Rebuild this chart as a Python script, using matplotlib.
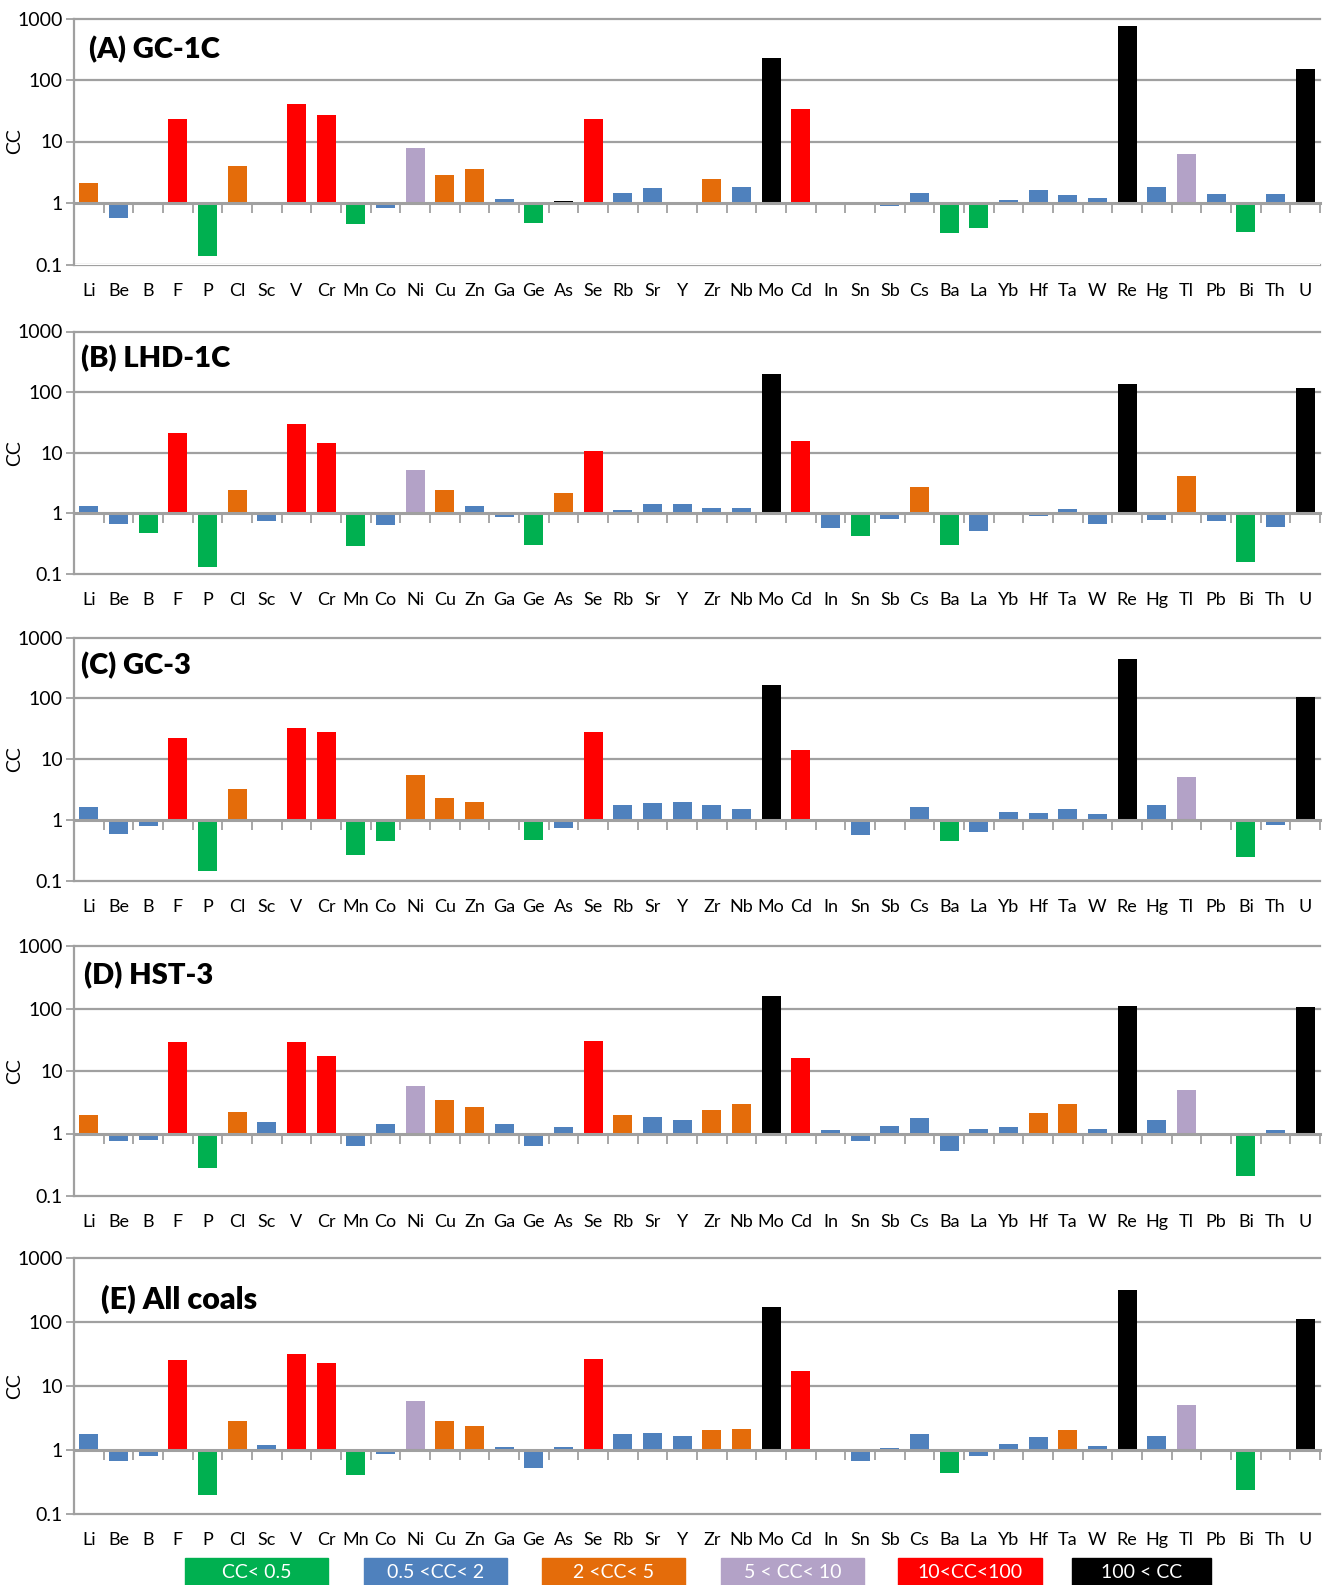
import numpy as np
import matplotlib
matplotlib.use("Agg")
import matplotlib.pyplot as plt
from matplotlib.patches import Rectangle
from matplotlib.ticker import NullLocator, FixedLocator

plt.rcParams['font.family'] = ['Lato', 'DejaVu Sans']

elements = ["Li", "Be", "B", "F", "P", "Cl", "Sc", "V", "Cr", "Mn", "Co", "Ni", "Cu", "Zn",
            "Ga", "Ge", "As", "Se", "Rb", "Sr", "Y", "Zr", "Nb", "Mo", "Cd", "In", "Sn", "Sb",
            "Cs", "Ba", "La", "Yb", "Hf", "Ta", "W", "Re", "Hg", "Tl", "Pb", "Bi", "Th", "U"]

# concentration coefficients (CC) per sample
gc1c = [2.1, 0.56, 1.0, 23, 0.135, 3.96, 1.0, 40.6, 26.9, 0.45, 0.82, 7.9, 2.83, 3.54,
        1.15, 0.48, 1.06, 23, 1.44, 1.73, 1.0, 2.43, 1.8, 228, 33.7, 1.0, 1.0, 0.89,
        1.44, 0.32, 0.39, 1.13, 1.61, 1.37, 1.22, 760, 1.85, 6.2, 1.38, 0.34, 1.42, 151]
lhd1c = [1.32, 0.68, 0.48, 21.1, 0.132, 2.42, 0.76, 29.7, 14.4, 0.29, 0.65, 5.2, 2.42, 1.32,
         0.88, 0.30, 2.16, 10.7, 1.13, 1.43, 1.43, 1.22, 1.22, 198, 15.6, 0.58, 0.43, 0.82,
         2.72, 0.30, 0.52, 1.0, 0.92, 1.18, 0.68, 135, 0.79, 4.13, 0.76, 0.16, 0.60, 116]
gc3 = [1.67, 0.59, 0.80, 22.6, 0.146, 3.3, 1.0, 33, 28.4, 0.27, 0.45, 5.6, 2.35, 2.02,
       0.93, 0.47, 0.74, 28.4, 1.74, 1.88, 1.95, 1.74, 1.55, 168, 14.4, 1.0, 0.57, 0.93,
       1.67, 0.45, 0.64, 1.34, 1.29, 1.50, 1.24, 447, 1.74, 5.2, 0.93, 0.25, 0.83, 106]
hst3 = [2.01, 0.77, 0.80, 29.4, 0.28, 2.24, 1.55, 29.4, 17.6, 0.62, 1.44, 5.8, 3.49, 2.70,
        1.44, 0.62, 1.25, 30.5, 2.01, 1.87, 1.67, 2.42, 3.01, 159, 16.3, 1.12, 0.75, 1.34,
        1.80, 0.52, 1.16, 1.25, 2.09, 3.01, 1.16, 110, 1.67, 5.04, 1.0, 0.21, 1.12, 106]
allcoals = [1.78, 0.67, 0.80, 25.5, 0.198, 2.84, 1.18, 31.6, 22.9, 0.41, 0.88, 5.8, 2.84, 2.37,
            1.13, 0.52, 1.10, 26.4, 1.78, 1.82, 1.67, 2.02, 2.13, 172, 17.2, 1.0, 0.67, 1.06,
            1.78, 0.44, 0.80, 1.23, 1.58, 2.05, 1.14, 316, 1.64, 5.05, 1.0, 0.24, 1.0, 111]

titles = ["(A) GC-1C", "(B) LHD-1C", "(C) GC-3", "(D) HST-3", "(E) All coals"]
series = [gc1c, lhd1c, gc3, hst3, allcoals]

# class bounds and colours
bounds = [0.5, 2, 5, 10, 100]
class_colors = ["#00B050", "#4F81BD", "#E46C0A", "#B3A2C7", "#FF0000", "#000000"]
class_labels = ["CC< 0.5", "0.5 <CC< 2", "2 <CC< 5", "5 < CC< 10", "10<CC<100", "100 < CC"]

# bars whose class colour was set by hand in the source figure
overrides = {(0, "As"): 5, (2, "Ni"): 2, (2, "Ga"): 4}

gray = "#A0A0A0"
W, H = 1325, 1585

# panel boxes in pixels: (top, bottom)
panel_px = [(18.5, 264.5), (331.5, 574), (637.5, 881), (946, 1196), (1258, 1514)]
left_px, right_px = 74, 1320
title_pos = [(0.012, 0.875, 21), (0.006, 0.887, 21), (0.006, 0.883, 21),
             (0.008, 0.880, 21), (0.022, 0.840, 22)]

fig = plt.figure(figsize=(W / 100, H / 100), dpi=100)
x = np.arange(len(elements))

for i, vals in enumerate(series):
    top, bot = panel_px[i]
    ax = fig.add_axes([left_px / W, 1 - bot / H, (right_px - left_px) / W, (bot - top) / H])
    vals = np.array(vals, dtype=float)
    cls = np.searchsorted(bounds, vals)
    for (p, el), c in overrides.items():
        if p == i:
            cls[elements.index(el)] = c
    colors = [class_colors[c] for c in cls]
    ax.bar(x, vals - 1, bottom=1, width=0.65, color=colors, zorder=2)

    ax.set_yscale("log")
    ax.set_ylim(0.1, 1000)
    ax.set_xlim(-0.5, len(elements) - 0.5)
    ax.set_yticks([0.1, 1, 10, 100, 1000])
    ax.set_yticklabels(["0.1", "1", "10", "100", "1000"])
    ax.yaxis.set_minor_locator(NullLocator())
    ax.tick_params(axis="y", length=6, width=1.3, color=gray, labelsize=14, pad=2)

    for v in [0.1, 10, 100, 1000]:
        ax.axhline(v, color=gray, lw=1.6, zorder=0, clip_on=False)

    for s in ["top", "right"]:
        ax.spines[s].set_visible(False)
    ax.spines["left"].set_color(gray)
    ax.spines["left"].set_linewidth(1.6)
    ax.spines["bottom"].set_position(("data", 1))
    ax.spines["bottom"].set_color(gray)
    ax.spines["bottom"].set_linewidth(2.2)
    ax.spines["bottom"].set_zorder(3)

    # category boundary ticks hang from the CC = 1 axis
    ax.xaxis.set_major_locator(FixedLocator(np.arange(len(elements) + 1) - 0.5))
    ax.tick_params(axis="x", which="major", length=7, width=1.3, color=gray,
                   direction="out", labelbottom=False)

    sec = ax.secondary_xaxis(0)
    sec.set_xticks(x, elements)
    sec.tick_params(length=0, pad=13, labelsize=13)
    sec.spines["bottom"].set_visible(False)

    tx, ty, fs = title_pos[i]
    ax.text(tx, ty, titles[i], transform=ax.transAxes, fontsize=fs,
            fontweight="heavy", va="center", ha="left")

    fig.text(15 / W, 1 - (top + bot) / 2 / H, "CC", rotation=90, fontsize=14,
             ha="center", va="center")

# legend strip along the bottom edge
legend_px = [(185, 328), (364, 507), (542, 685), (721, 864), (898, 1042), (1072, 1211)]
for (x0, x1), c, lab in zip(legend_px, class_colors, class_labels):
    fig.patches.append(Rectangle((x0 / W, 0), (x1 - x0) / W, 27 / H,
                                 transform=fig.transFigure, color=c))
    fig.text((x0 + x1) / 2 / W, 12 / H, lab, color="white", fontsize=14,
             ha="center", va="center")

fig.savefig("out.png", dpi=100)
